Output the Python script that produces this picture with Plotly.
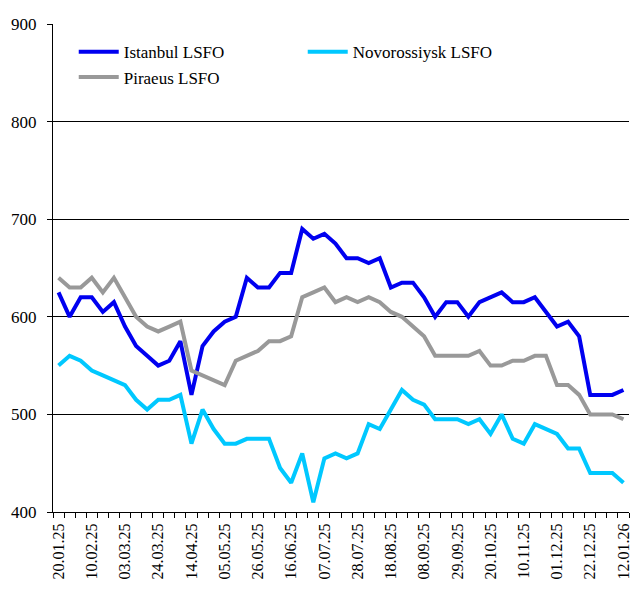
import plotly.graph_objects as go
import pandas as pd

# Weekly dates, 20.01.25 ... 12.01.26
dates = pd.date_range("2025-01-20", periods=52, freq="7D")

istanbul = [625, 600, 620, 620, 605, 615, 590, 570, 560, 550, 555, 575, 520,
            570, 585, 595, 600, 640, 630, 630, 645, 645, 690, 680, 685, 675,
            660, 660, 655, 660, 630, 635, 635, 620, 600, 615, 615, 600, 615,
            620, 625, 615, 615, 620, 605, 590, 595, 580, 520, 520, 520, 525]

novorossiysk = [550, 560, 555, 545, 540, 535, 530, 515, 505, 515, 515, 520, 470,
                505, 485, 470, 470, 475, 475, 475, 445, 430, 460, 410, 455, 460,
                455, 460, 490, 485, 505, 525, 515, 510, 495, 495, 495, 490, 495,
                480, 500, 475, 470, 490, 485, 480, 465, 465, 440, 440, 440, 430]

piraeus = [640, 630, 630, 640, 625, 640, 620, 600, 590, 585, 590, 595, 545,
           540, 535, 530, 555, 560, 565, 575, 575, 580, 620, 625, 630, 615,
           620, 615, 620, 615, 605, 600, 590, 580, 560, 560, 560, 560, 565,
           550, 550, 555, 555, 560, 560, 530, 530, 520, 500, 500, 500, 495]

series = [
    ("Istanbul LSFO", istanbul, "#0000F0"),
    ("Novorossiysk LSFO", novorossiysk, "#00C8FF"),
    ("Piraeus LSFO", piraeus, "#999999"),
]

font = "Liberation Serif"

fig = go.Figure()
for name, vals, col in series:
    fig.add_trace(go.Scatter(
        x=dates, y=vals, name=name, mode="lines",
        line=dict(color=col, width=4),
    ))

# page body adds an 8px offset, so the figure is a bit smaller than the window
fig.update_layout(
    width=633, height=584,
    margin=dict(l=45, r=12, t=16, b=80),
    paper_bgcolor="white", plot_bgcolor="white",
    font=dict(family=font, size=16, color="black"),
    showlegend=True,
    legend=dict(
        orientation="h", x=0.036, y=0.979, xanchor="left", yanchor="top",
        entrywidth=174, entrywidthmode="pixels", itemwidth=40,
        font=dict(family=font, size=17, color="black"),
        bgcolor="rgba(0,0,0,0)",
    ),
)

fig.update_xaxes(
    range=[dates[0] - pd.Timedelta(days=3.5), dates[-1] + pd.Timedelta(days=3.5)],
    tick0=dates[0], dtick=3 * 7 * 86400000, tickformat="%d.%m.%y",
    tickangle=-90, ticks="", showgrid=False,
    showline=True, linecolor="black", linewidth=1,
    minor=dict(ticks="outside", ticklen=5, tickcolor="black",
               tick0=dates[0] - pd.Timedelta(days=3.5), dtick=7 * 86400000,
               showgrid=False),
    tickfont=dict(family=font, size=16),
    ticklabelstandoff=4,
    automargin=False,
)

fig.update_yaxes(
    range=[400, 900], dtick=100,
    showgrid=True, gridcolor="black", gridwidth=1,
    showline=True, linecolor="black", linewidth=1,
    ticks="outside", ticklen=5, tickcolor="black",
    tickfont=dict(family=font, size=17),
    ticklabelstandoff=7,
    automargin=False,
    zeroline=False,
)

fig.write_html("out.html")
